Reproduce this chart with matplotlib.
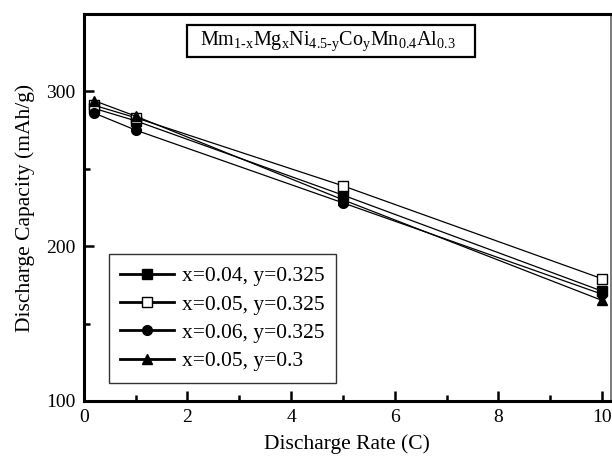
import matplotlib
matplotlib.use("Agg")
import matplotlib.pyplot as plt
from matplotlib.patches import Rectangle
from matplotlib.ticker import MultipleLocator

plt.rcParams["font.family"] = ["Liberation Serif", "DejaVu Serif"]
plt.rcParams["mathtext.fontset"] = "custom"
plt.rcParams["mathtext.rm"] = "Liberation Serif"
plt.rcParams["mathtext.it"] = "Liberation Serif:italic"

rates = [0.2, 1, 5, 10]
cap_x004 = [289, 281, 233, 171]
cap_x005 = [291, 283, 239, 179]
cap_x006 = [286, 275, 228, 169]
cap_x005_y03 = [294, 284, 230, 165]

labels = ["x=0.04, y=0.325", "x=0.05, y=0.325", "x=0.06, y=0.325", "x=0.05, y=0.3"]
markers = ["s", "s", "o", "^"]
faces = ["black", "white", "black", "black"]
series = [cap_x004, cap_x005, cap_x006, cap_x005_y03]

fig = plt.figure(figsize=(6.12, 4.59), dpi=100)
ax = fig.add_axes([0.137, 0.1264, 0.861, 0.8431])

for ys, m, fc, lab in zip(series, markers, faces, labels):
    ax.plot(rates, ys, color="black", lw=0.9, marker=m, ms=7,
            mfc=fc, mec="black", mew=1.0, label=lab)

ax.set_xlim(0, 10.17)
ax.set_ylim(100, 350)
ax.xaxis.set_major_locator(MultipleLocator(2))
ax.xaxis.set_minor_locator(MultipleLocator(1))
ax.yaxis.set_major_locator(MultipleLocator(100))
ax.yaxis.set_minor_locator(MultipleLocator(50))
ax.tick_params(which="both", direction="in", top=False, right=False,
               width=1.8, labelsize=14)
ax.tick_params(which="major", length=7, pad=6)
ax.tick_params(which="minor", length=4.5)

for side in ["left", "bottom", "top"]:
    ax.spines[side].set_linewidth(2.2)
ax.spines["right"].set_linewidth(1.2)
ax.spines["right"].set_color("#666666")

ax.set_xlabel("Discharge Rate (C)", fontsize=15.5, labelpad=6)
ax.set_ylabel("Discharge Capacity (mAh/g)", fontsize=15.5, labelpad=8)

leg = ax.legend(loc="lower left", bbox_to_anchor=(0.047, 0.0465),
                borderaxespad=0, fontsize=15.5, frameon=True, fancybox=False,
                edgecolor="black", handlelength=2.5, labelspacing=0.38,
                borderpad=0.55, handletextpad=0.35)
leg.get_frame().set_linewidth(1.0)
for h in leg.legend_handles:
    h.set_linewidth(2.0)

ax.add_patch(Rectangle((0.195, 0.889), 0.547, 0.083, transform=ax.transAxes,
                       fill=False, edgecolor="black", lw=1.6, zorder=5))
ax.text(0.463, 0.930,
        r"$\mathrm{Mm_{1\text{-}x}Mg_{x}Ni_{4.5\text{-}y}Co_{y}Mn_{0.4}Al_{0.3}}$",
        transform=ax.transAxes, ha="center", va="center", fontsize=14.5)

fig.savefig("out.png", dpi=100)
